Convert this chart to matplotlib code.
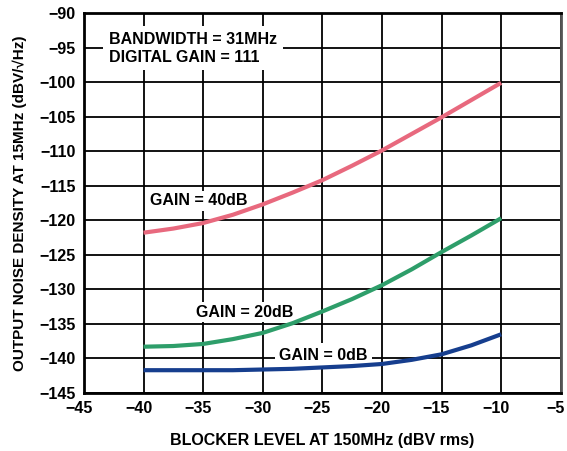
import matplotlib
matplotlib.use("Agg")
import matplotlib.pyplot as plt
import matplotlib.transforms as mtransforms

blocker_level = [-40, -37.5, -35, -32.5, -30, -27.5, -25, -22.5, -20, -17.5, -15, -12.5, -10]
gain_40db = [-121.8, -121.2, -120.4, -119.2, -117.7, -116.0, -114.2, -112.1, -109.9, -107.5, -105.1, -102.6, -100.1]
gain_20db = [-138.3, -138.2, -137.9, -137.2, -136.3, -134.9, -133.2, -131.4, -129.4, -127.1, -124.6, -122.2, -119.7]
gain_0db = [-141.7, -141.7, -141.7, -141.7, -141.6, -141.5, -141.3, -141.1, -140.8, -140.2, -139.4, -138.1, -136.5]

x_ticks = [-45, -40, -35, -30, -25, -20, -15, -10, -5]
y_ticks = [-145, -140, -135, -130, -125, -120, -115, -110, -105, -100, -95, -90]

plt.rcParams['font.family'] = ['Liberation Sans', 'DejaVu Sans']
plt.rcParams['font.weight'] = 'bold'

fig = plt.figure(figsize=(5.67, 4.51), dpi=100)
ax = fig.add_axes([0.148, 0.1286, 0.841, 0.8426])

ax.set_xlim(-45, -5)
ax.set_ylim(-145, -90)
ax.set_xticks(x_ticks)
ax.set_yticks(y_ticks)
ax.set_xticklabels(['\u2212%d' % abs(v) for v in x_ticks], fontsize=11.5, fontweight='bold')
ax.set_yticklabels(['\u2212%d' % abs(v) for v in y_ticks], fontsize=11.5, fontweight='bold')
ax.tick_params(length=0, pad=6)
shift = mtransforms.ScaledTranslation(-5 / 100, 0, fig.dpi_scale_trans)
for lbl in ax.get_xticklabels():
    lbl.set_transform(lbl.get_transform() + shift)
ax.grid(True, color='black', linewidth=1.3, zorder=1)
ax.set_axisbelow(True)
for s in ['left', 'bottom', 'top']:
    ax.spines[s].set_linewidth(2)
ax.spines['right'].set_linewidth(2)
ax.spines['right'].set_color('#555555')

ax.plot(blocker_level, gain_40db, color='#E8697E', linewidth=3, zorder=3, solid_capstyle='butt')
ax.plot(blocker_level, gain_20db, color='#2E9E6A', linewidth=3, zorder=3, solid_capstyle='butt')
ax.plot(blocker_level, gain_0db, color='#163E8E', linewidth=3, zorder=3, solid_capstyle='butt')

box = dict(facecolor='white', edgecolor='none', pad=2)
ax.text(-42.9, -95.1, 'BANDWIDTH = 31MHz\nDIGITAL GAIN = 111', fontsize=11.5, fontweight='bold',
        va='center', ha='left', linespacing=1.25, bbox=dict(facecolor='white', edgecolor='none', pad=4), zorder=2)
ax.text(-35.4, -117.2, 'GAIN = 40dB', fontsize=11.5, fontweight='bold', ha='center', va='center', bbox=box, zorder=2)
ax.text(-31.5, -133.3, 'GAIN = 20dB', fontsize=11.5, fontweight='bold', ha='center', va='center', bbox=box, zorder=2)
ax.text(-24.9, -139.5, 'GAIN = 0dB', fontsize=11.5, fontweight='bold', ha='center', va='center',
        bbox=dict(facecolor='white', edgecolor='none', pad=3), zorder=2)

ax.set_xlabel('BLOCKER LEVEL AT 150MHz (dBV rms)', fontsize=11.5, fontweight='bold', labelpad=12)
ax.set_ylabel('OUTPUT NOISE DENSITY AT 15MHz (dBV/\u221aHz)', fontsize=11, fontweight='bold', labelpad=9)

fig.savefig('out.png', dpi=100)
